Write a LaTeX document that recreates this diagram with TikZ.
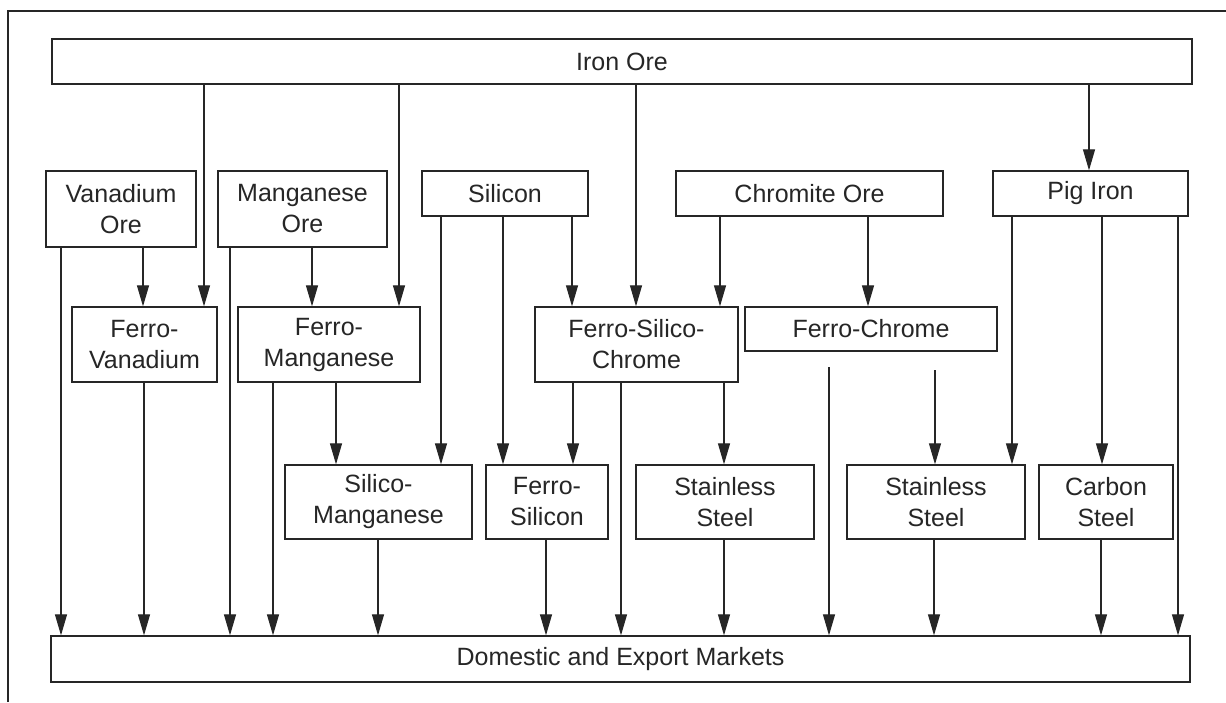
\documentclass[tikz,border=0pt]{standalone}
\usepackage{fontspec}
\setmainfont{Liberation Sans}
\usetikzlibrary{arrows.meta}
\definecolor{ink}{HTML}{262626}
\begin{document}
\begin{tikzpicture}[x=1pt,y=-1pt,
  box/.style={draw=ink, line width=1.3pt, inner sep=0pt, align=center,
    font=\fontsize{25}{31}\selectfont, text=ink},
  flow/.style={draw=ink, line width=1.2pt, -{Triangle[length=21pt,width=12pt]}},
  frame/.style={draw=ink, line width=1.5pt}]
\useasboundingbox (0,0) rectangle (1226,702);
\fill[white] (0,0) rectangle (1226,702);
% outer frame (left and top edges)
\draw[frame] (8,702) -- (8,11) -- (1226,11);

% top source
\node[box, minimum width=1140pt, minimum height=45pt] (io) at (622,61.5) {Iron Ore};
% raw materials
\node[box, minimum width=150pt, minimum height=76pt] (vo) at (121,209) {Vanadium\\Ore};
\node[box, minimum width=169pt, minimum height=76pt] (mo) at (302.5,209) {Manganese\\Ore};
\node[box, minimum width=166pt, minimum height=45pt] (si) at (505,193.5) {Silicon};
\node[box, minimum width=267pt, minimum height=45pt] (co) at (809.5,193.5) {Chromite Ore};
\node[box, minimum width=195pt, minimum height=45pt] (pi) at (1090.5,193.5) {Pig Iron};
% alloys
\node[box, minimum width=145pt, minimum height=75pt] (fv) at (144.5,344.5) {Ferro-\\Vanadium};
\node[box, minimum width=182pt, minimum height=75pt] (fm) at (329,344.5) {Ferro-\\Manganese};
\node[box, minimum width=203pt, minimum height=75pt] (fsc) at (636.5,344.5) {Ferro-Silico-\\Chrome};
\node[box, minimum width=252pt, minimum height=44pt] (fc) at (871,329) {Ferro-Chrome};
% products
\node[box, minimum width=187pt, minimum height=74pt] (sm) at (378.5,502) {Silico-\\Manganese};
\node[box, minimum width=122pt, minimum height=74pt] (fs) at (547,502) {Ferro-\\Silicon};
\node[box, minimum width=178pt, minimum height=74pt] (ss1) at (725,502) {Stainless\\Steel};
\node[box, minimum width=178pt, minimum height=74pt] (ss2) at (936,502) {Stainless\\Steel};
\node[box, minimum width=134pt, minimum height=74pt] (cs) at (1106,502) {Carbon\\Steel};
% markets
\node[box, minimum width=1139pt, minimum height=46pt] (mk) at (620.5,659) {Domestic and Export Markets};

% iron ore feeds
\draw[flow] (io.south -| 204,0) -- (fv.north -| 204,0);
\draw[flow] (io.south -| 399,0) -- (fm.north -| 399,0);
\draw[flow] (io.south -| 636,0) -- (fsc.north -| 636,0);
\draw[flow] (io.south -| 1089,0) -- (pi.north -| 1089,0);
% vanadium ore
\draw[flow] (vo.south -| 61,0) -- (mk.north -| 61,0);
\draw[flow] (vo.south -| 143,0) -- (fv.north -| 143,0);
% manganese ore
\draw[flow] (mo.south -| 230,0) -- (mk.north -| 230,0);
\draw[flow] (mo.south -| 312,0) -- (fm.north -| 312,0);
% silicon
\draw[flow] (si.south -| 441,0) -- (sm.north -| 441,0);
\draw[flow] (si.south -| 503,0) -- (fs.north -| 503,0);
\draw[flow] (si.south -| 572,0) -- (fsc.north -| 572,0);
% chromite ore
\draw[flow] (co.south -| 720,0) -- (fsc.north -| 720,0);
\draw[flow] (co.south -| 868,0) -- (fc.north -| 868,0);
% pig iron
\draw[flow] (pi.south -| 1012,0) -- (ss2.north -| 1012,0);
\draw[flow] (pi.south -| 1102,0) -- (cs.north -| 1102,0);
\draw[flow] (pi.south -| 1178,0) -- (mk.north -| 1178,0);
% ferro-vanadium
\draw[flow] (fv.south -| 144,0) -- (mk.north -| 144,0);
% ferro-manganese
\draw[flow] (fm.south -| 273,0) -- (mk.north -| 273,0);
\draw[flow] (fm.south -| 336,0) -- (sm.north -| 336,0);
% ferro-silico-chrome
\draw[flow] (fsc.south -| 573,0) -- (fs.north -| 573,0);
\draw[flow] (fsc.south -| 621,0) -- (mk.north -| 621,0);
\draw[flow] (fsc.south -| 724,0) -- (ss1.north -| 724,0);
% ferro-chrome (lines start just below the box)
\coordinate (fcA) at (829,367);
\coordinate (fcB) at (935,370);
\draw[flow] (fcA) -- (mk.north -| fcA);
\draw[flow] (fcB) -- (ss2.north -| fcB);
% products to market
\draw[flow] (sm.south -| 378,0) -- (mk.north -| 378,0);
\draw[flow] (fs.south -| 546,0) -- (mk.north -| 546,0);
\draw[flow] (ss1.south -| 724,0) -- (mk.north -| 724,0);
\draw[flow] (ss2.south -| 934,0) -- (mk.north -| 934,0);
\draw[flow] (cs.south -| 1101,0) -- (mk.north -| 1101,0);
\end{tikzpicture}
\end{document}
